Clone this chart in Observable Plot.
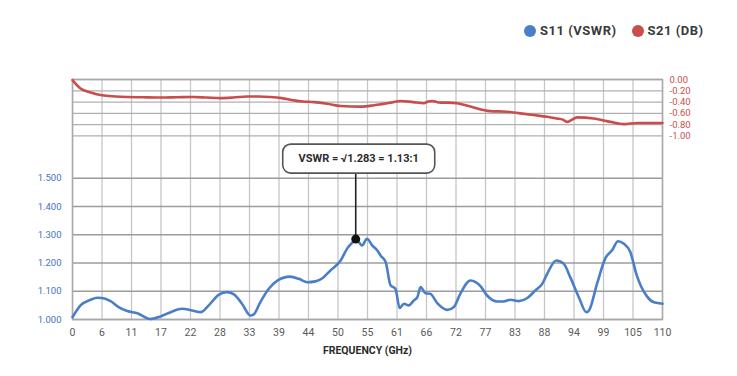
<!DOCTYPE html>
<html>
<head>
<meta charset="utf-8">
<script src="https://cdn.jsdelivr.net/npm/d3@7"></script>
<script src="https://cdn.jsdelivr.net/npm/@observablehq/plot@0.6"></script>
<style>
  html, body { margin: 0; padding: 0; background: #ffffff; }
  #wrap { position: relative; width: 737px; height: 376px; font-family: Roboto, "Liberation Sans", Arial, sans-serif; }
  #legend { position: absolute; top: 23px; left: 524px; display: flex; align-items: center; font-weight: bold; font-size: 13px; letter-spacing: 0.5px; color: #3a3a3a; white-space: nowrap; }
  #legend .sw { display: inline-block; width: 12px; height: 12px; border-radius: 50%; margin-right: 4px; }
  #legend .item { display: flex; align-items: center; margin-right: 15px; }
</style>
</head>
<body>
<div id="wrap">
  <div id="legend"></div>
</div>
<script>
// ---------- data ----------
const xTickPositions = [0, 5.5, 11, 16.5, 22, 27.5, 33, 38.5, 44, 49.5, 55, 60.5, 66, 71.5, 77, 82.5, 88, 93.5, 99, 104.5, 110];
const xTickLabels = ["0", "6", "11", "17", "22", "28", "33", "39", "44", "50", "55", "61", "66", "72", "77", "83", "88", "94", "99", "105", "110"];

const vswrTicks = [1.0, 1.1, 1.2, 1.3, 1.4, 1.5];
const vswrTickLabels = ["1.000", "1.100", "1.200", "1.300", "1.400", "1.500"];

const s21Ticks = [0, -0.2, -0.4, -0.6, -0.8, -1.0];
const s21TickLabels = ["0.00", "-0.20", "-0.40", "-0.60", "-0.80", "-1.00"];

const s11Freq = [0, 1.5, 3.4, 4.6, 5.5, 7.1, 8.6, 10.2, 12.1, 14.5, 16.4, 18.3, 20.4, 22.3, 23.9, 25.4, 27.3, 28.8, 30.1, 31.6,
  33.2, 33.8, 35.0, 36.6, 38.2, 40.6, 42.2, 43.8, 45.3, 46.6, 48.1, 50.0, 51.2, 52.1, 52.9, 54.0, 54.9, 55.9, 56.8, 57.5,
  58.4, 59.3, 60.2, 61.0, 61.8, 62.7, 63.6, 64.3, 64.9, 65.8, 66.7, 68.0, 69.9, 71.1, 72.3, 74.2, 76.1, 77.3, 79.2, 80.4,
  81.7, 83.2, 84.8, 86.3, 87.6, 88.5, 90.2, 91.6, 92.8, 94.4, 95.8, 96.3, 97.8, 99.4, 100.6, 101.7, 102.8, 104.0, 105.2, 107.1,
  108.4, 110];
const s11Vswr = [1.008, 1.05, 1.07, 1.077, 1.076, 1.065, 1.044, 1.03, 1.022, 1.002, 1.011, 1.026, 1.038, 1.032, 1.026, 1.05, 1.088, 1.097, 1.089, 1.056,
  1.014, 1.018, 1.061, 1.109, 1.138, 1.152, 1.144, 1.132, 1.135, 1.146, 1.174, 1.209, 1.251, 1.271, 1.283, 1.262, 1.286, 1.262, 1.245, 1.225,
  1.203, 1.121, 1.109, 1.041, 1.056, 1.05, 1.067, 1.079, 1.115, 1.093, 1.091, 1.058, 1.034, 1.044, 1.091, 1.138, 1.117, 1.085, 1.064, 1.064,
  1.07, 1.065, 1.076, 1.103, 1.127, 1.162, 1.209, 1.197, 1.15, 1.079, 1.026, 1.032, 1.127, 1.219, 1.245, 1.277, 1.268, 1.239, 1.156, 1.082,
  1.061, 1.056];

const s21Freq = [0, 1.5, 3.4, 5.5, 8, 10.2, 13, 16.4, 19.5, 22.6, 25, 27.6, 30, 32.6, 34.8, 36.9, 39, 41.3, 43, 45,
  47.5, 50, 53.7, 56, 57.4, 59.3, 61.2, 63.5, 65.5, 66.3, 67.1, 67.9, 68.6, 70, 71.7, 74.2, 77.9, 81, 83.5, 86,
  88.5, 90.3, 91.4, 92.2, 93, 94.1, 97.2, 100.3, 102.8, 105.3, 107.5, 109.6, 110];
const s21Db = [-0.01, -0.16, -0.23, -0.28, -0.30, -0.31, -0.315, -0.32, -0.315, -0.31, -0.32, -0.33, -0.32, -0.30, -0.30, -0.31, -0.33, -0.37, -0.39, -0.40,
  -0.43, -0.47, -0.48, -0.46, -0.44, -0.41, -0.38, -0.40, -0.42, -0.39, -0.38, -0.40, -0.41, -0.41, -0.42, -0.48, -0.56, -0.57, -0.60, -0.63,
  -0.66, -0.69, -0.71, -0.75, -0.72, -0.67, -0.69, -0.75, -0.79, -0.77, -0.77, -0.77, -0.77];

const annFreq = 52.9;
const annVswr = 1.283;
const annLabel = "VSWR = \u221A1.283 = 1.13:1";

const seriesNames = ["S11 (VSWR)", "S21 (DB)"];
const seriesColors = ["#4a7fc8", "#c84d4b"];

// ---------- helpers ----------
// the dB band shares the y scale: 0 dB sits at the top of the frame, 1 dB spans 0.2 VSWR units
const dbToY = d => 1.85 + 0.2 * d;

const s11 = s11Freq.map((f, i) => ({f, v: s11Vswr[i]}));
const s21 = s21Freq.map((f, i) => ({f, v: dbToY(s21Db[i])}));
const s21TickY = s21Ticks.map(dbToY);
const xLabelMap = new Map(xTickPositions.map((p, i) => [p, xTickLabels[i]]));
const vLabelMap = new Map(vswrTicks.map((p, i) => [p, vswrTickLabels[i]]));
const dLabelMap = new Map(s21TickY.map((p, i) => [p, s21TickLabels[i]]));

function annotation(index, scales) {
  const px = scales.x(annFreq), py = scales.y(annVswr);
  const g = d3.create("svg:g");
  const bw = 152, bh = 29, gap = 66;
  const cx = px + 3, by = py - gap - bh;
  g.append("line").attr("x1", px).attr("x2", px).attr("y1", py).attr("y2", by + bh)
    .attr("stroke", "#222").attr("stroke-width", 1.6);
  g.append("rect").attr("x", cx - bw / 2).attr("y", by).attr("width", bw).attr("height", bh)
    .attr("rx", 8).attr("ry", 8).attr("fill", "#fff").attr("stroke", "#555").attr("stroke-width", 1.6);
  g.append("text").attr("x", cx).attr("y", by + bh / 2).attr("dy", "0.35em").attr("text-anchor", "middle")
    .attr("font-family", "Roboto, 'Liberation Sans', sans-serif").attr("font-weight", "bold").attr("font-size", 11)
    .attr("fill", "#2b2b2b").text(annLabel);
  g.append("circle").attr("cx", px).attr("cy", py).attr("r", 4.5).attr("fill", "#111");
  return g.node();
}

const chart = Plot.plot({
  width: 737,
  height: 376,
  marginLeft: 72,
  marginRight: 75,
  marginTop: 79,
  marginBottom: 57,
  style: {fontFamily: "Roboto, 'Liberation Sans', sans-serif", background: "transparent"},
  x: {domain: [0, 110]},
  y: {domain: [1, 1.85]},
  marks: [
    Plot.ruleX(xTickPositions, {stroke: "#c6c6c6", strokeWidth: 1.3}),
    Plot.ruleY(vswrTicks, {stroke: "#9c9c9c", strokeWidth: 1.6}),
    Plot.ruleY(s21TickY, {stroke: "#b0b0b0", strokeWidth: 1.3}),
    Plot.frame({stroke: "#a8a8a8", strokeWidth: 1.5}),
    Plot.axisX(xTickPositions, {tickSize: 0, tickPadding: 9, tickFormat: d => xLabelMap.get(d), label: null, fontSize: 10.5, color: "#5a5a5a"}),
    Plot.axisY(vswrTicks, {anchor: "left", tickSize: 0, tickPadding: 11, tickFormat: d => vLabelMap.get(d), label: null, fontSize: 9.5, color: "#3f73c2"}),
    Plot.axisY(s21TickY, {anchor: "right", tickSize: 0, tickPadding: 7, tickFormat: d => dLabelMap.get(d), label: null, fontSize: 9.5, textAnchor: "start", color: "#c8504e"}),
    Plot.text(["FREQUENCY (GHz)"], {frameAnchor: "bottom", dy: 34, text: d => d, fontWeight: "bold", fontSize: 10.5, fill: "#2b2b2b"}),
    Plot.line(s21, {x: "f", y: "v", stroke: seriesColors[1], strokeWidth: 2.6, curve: "monotone-x"}),
    Plot.line(s11, {x: "f", y: "v", stroke: seriesColors[0], strokeWidth: 2.6, curve: "monotone-x"}),
    annotation
  ]
});

document.getElementById("wrap").appendChild(chart);

const legend = document.getElementById("legend");
seriesNames.forEach((name, i) => {
  const item = document.createElement("span");
  item.className = "item";
  const sw = document.createElement("span");
  sw.className = "sw";
  sw.style.background = seriesColors[i];
  item.appendChild(sw);
  item.appendChild(document.createTextNode(name));
  legend.appendChild(item);
});
</script>
</body>
</html>
